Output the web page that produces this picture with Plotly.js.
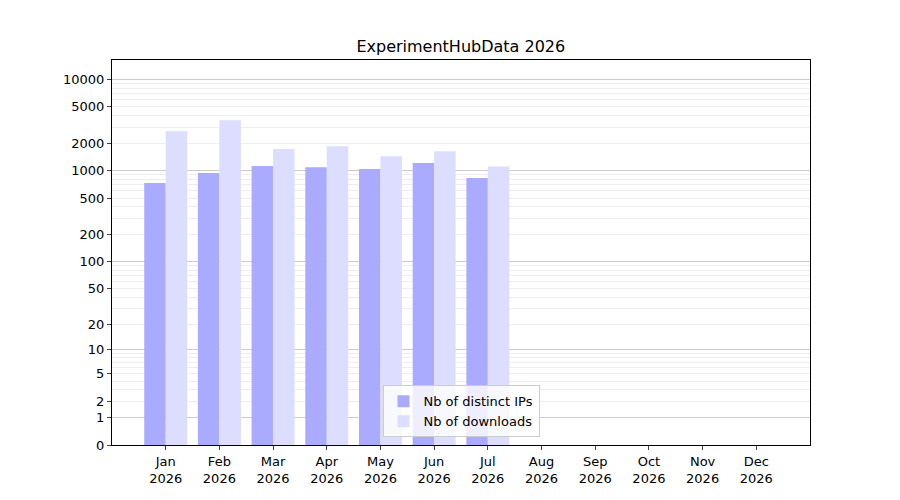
<!DOCTYPE html>
<html>
<head>
<script src="https://cdn.plot.ly/plotly-3.0.1.min.js"></script>
<style>body{margin:0}#graph{width:900px;height:500px}</style>
</head>
<body>
<div id="graph"></div>
<script>
var months = ['Jan','Feb','Mar','Apr','May','Jun','Jul','Aug','Sep','Oct','Nov','Dec'];
var year = '2026';
var distinctIPs = [730, 940, 1120, 1090, 1040, 1210, 830];
var downloads = [2700, 3550, 1720, 1850, 1440, 1630, 1110];
var tickLabels = [0, 1, 2, 5, 10, 20, 50, 100, 200, 500, 1000, 2000, 5000, 10000];
var decades = [1, 10, 100, 1000, 10000];

// axis is log10(1 + n)
function tr(v) { return Math.log10(1 + v); }

var cats = months.map(function (m) { return m + '<br>' + year; });

var minorVals = [];
[1, 10, 100, 1000].forEach(function (d) {
    for (var k = 2; k <= 9; k++) minorVals.push(tr(k * d));
});

var traceIPs = {
    x: cats.slice(0, distinctIPs.length),
    y: distinctIPs.map(tr),
    type: 'bar',
    name: 'Nb of distinct IPs',
    marker: {color: '#aaaaff'}
};

var traceDl = {
    x: cats.slice(0, downloads.length),
    y: downloads.map(tr),
    type: 'bar',
    name: 'Nb of downloads',
    marker: {color: '#ddddff'}
};

var yRange = [0, 4.21];

var layout = {
    width: 900, height: 500,
    margin: {l: 112, r: 90, t: 60, b: 55},
    font: {family: 'DejaVu Sans', size: 13, color: '#000'},
    paper_bgcolor: '#fff', plot_bgcolor: '#fff',
    title: {text: 'ExperimentHubData 2026', font: {size: 16}, x: 0.512, y: 0.908, yanchor: 'middle'},
    barmode: 'group', bargap: 0.2, bargroupgap: 0,
    showlegend: true,
    legend: {x: 0.5, y: 0.02, xanchor: 'center', yanchor: 'bottom', bordercolor: '#ccc', borderwidth: 1,
             bgcolor: 'rgba(255,255,255,0.8)', tracegroupgap: 0, itemwidth: 30},
    xaxis: {
        type: 'category', categoryarray: cats, categoryorder: 'array',
        range: [-1, 12],
        showline: true, mirror: true, linecolor: '#000', ticks: 'outside', ticklen: 4, showgrid: false
    },
    yaxis: {
        range: yRange, tickmode: 'array',
        tickvals: tickLabels.map(tr), ticktext: tickLabels.map(String),
        showline: true, mirror: true, linecolor: '#000', ticks: 'outside', ticklen: 4,
        showgrid: false, zeroline: false,
        minor: {tickmode: 'array', tickvals: minorVals, showgrid: true, gridcolor: '#eeeeee', ticks: ''}
    },
    yaxis2: {
        range: yRange, overlaying: 'y', tickmode: 'array', tickvals: decades.map(tr),
        showticklabels: false, ticks: '', showgrid: true, gridcolor: '#cccccc', zeroline: false
    }
};

var gridTrace = {x: [cats[0]], y: [0], yaxis: 'y2', type: 'scatter', mode: 'none', showlegend: false, hoverinfo: 'skip'};

Plotly.newPlot('graph', [gridTrace, traceIPs, traceDl], layout, {displayModeBar: false});
</script>
</body>
</html>
